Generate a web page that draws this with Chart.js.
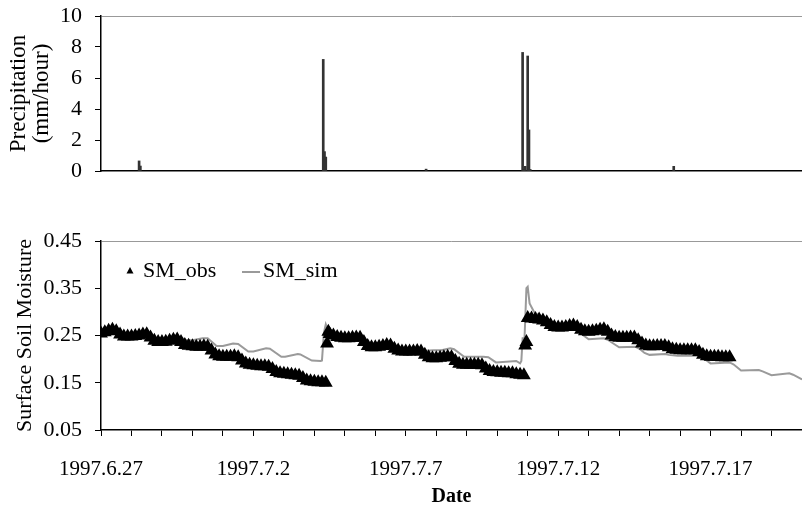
<!DOCTYPE html>
<html>
<head>
<meta charset="utf-8">
<script src="https://cdn.jsdelivr.net/npm/chart.js@4.4.0/dist/chart.umd.min.js"></script>
<style>
  html, body { margin: 0; padding: 0; background: #fff; }
  #wrap { position: relative; width: 802px; height: 510px; }
  canvas { position: absolute; left: 0; }
  #rainChart { top: 0; }
  #smChart { top: 190px; }
</style>
</head>
<body>
<div id="wrap">
  <canvas id="rainChart" width="802" height="190"></canvas>
  <canvas id="smChart" width="802" height="320"></canvas>
</div>
<script>
// x axis: days since 1997.6.27 0:00
const dayMax = 23;
const tickDays = [0, 5, 10, 15, 20];
const tickLabels = ['1997.6.27', '1997.7.2', '1997.7.7', '1997.7.12', '1997.7.17'];

// hourly precipitation (only the non-zero hours)
const rainHours = [30, 31, 175, 176, 177, 256, 332, 333, 334, 336, 337, 338, 451];
const rainValues = [0.65, 0.32, 7.2, 1.25, 0.9, 0.12, 7.65, 0.1, 0.3, 7.42, 2.65, 0.1, 0.3];

// SM_obs, one reading every 3 hours from hour 0
const obsStep = 3;
const obsValues = [
  0.254, 0.257, 0.260, 0.262, 0.259, 0.252, 0.248, 0.248,
  0.248, 0.249, 0.250, 0.252, 0.2525, 0.246, 0.239, 0.2365,
  0.2365, 0.237, 0.239, 0.241, 0.2415, 0.236, 0.230, 0.2285,
  0.227, 0.226, 0.226, 0.227, 0.226, 0.218, 0.210, 0.206,
  0.205, 0.205, 0.205, 0.206, 0.204, 0.197, 0.191, 0.188,
  0.187, 0.186, 0.185, 0.185, 0.184, 0.179, 0.173, 0.170,
  0.169, 0.168, 0.167, 0.166, 0.165, 0.160, 0.155, 0.153,
  0.152, 0.151, 0.151, 0.150, 0.253, 0.250, 0.247, 0.245,
  0.244, 0.244, 0.245, 0.246, 0.245, 0.236, 0.228, 0.225,
  0.225, 0.226, 0.228, 0.230, 0.229, 0.222, 0.218, 0.216,
  0.216, 0.216, 0.216, 0.217, 0.216, 0.209, 0.204, 0.202,
  0.202, 0.203, 0.204, 0.205, 0.204, 0.196, 0.190, 0.188,
  0.188, 0.188, 0.188, 0.188, 0.187, 0.180, 0.175, 0.173,
  0.172, 0.171, 0.171, 0.170, 0.170, 0.168, 0.167, 0.166,
  0.287, 0.286, 0.285, 0.284, 0.282, 0.278, 0.272, 0.268,
  0.267, 0.267, 0.268, 0.270, 0.271, 0.268, 0.262, 0.259,
  0.258, 0.259, 0.260, 0.262, 0.263, 0.258, 0.250, 0.247,
  0.245, 0.245, 0.245, 0.246, 0.246, 0.240, 0.233, 0.229,
  0.227, 0.227, 0.228, 0.228, 0.228, 0.225, 0.221, 0.220,
  0.219, 0.219, 0.219, 0.219, 0.219, 0.215, 0.209, 0.206,
  0.205, 0.205, 0.205, 0.204, 0.204, 0.204
];
// extra obs readings during the two wetting jumps
const obsExtraHours = [178, 179, 334, 335];
const obsExtraValues = [0.233, 0.258, 0.229, 0.236];

// SM_sim
const simHours = [0, 3, 6, 9, 12, 15, 18, 24, 30, 36, 39, 42, 48, 54, 59, 62, 67, 72, 80, 84,
  91, 96, 104, 108, 116, 120, 130, 133, 142, 145, 155, 157, 166, 173, 174, 175.5, 177, 179, 181, 184,
  192, 201, 204, 210, 216, 225, 228, 234, 240, 249, 252, 262, 268, 275, 278, 286, 301, 305, 311, 327,
  330, 331, 332, 333.5, 335, 336, 337.5, 341, 346, 350, 354, 357, 360, 372, 375, 380, 384, 396, 399, 404,
  408, 421, 424, 428, 432, 444, 447, 454, 471, 474, 480, 495, 498, 504, 518, 521, 528, 542, 545, 552];
const simValues = [0.254, 0.257, 0.260, 0.263, 0.260, 0.252, 0.248, 0.248, 0.250, 0.253, 0.247, 0.240, 0.237, 0.243, 0.250, 0.247, 0.240, 0.240, 0.244, 0.244,
  0.228, 0.228, 0.233, 0.232, 0.216, 0.216, 0.223, 0.222, 0.205, 0.205, 0.211, 0.210, 0.197, 0.196, 0.197, 0.255, 0.274, 0.260, 0.252, 0.249,
  0.245, 0.247, 0.246, 0.229, 0.226, 0.231, 0.230, 0.219, 0.217, 0.218, 0.217, 0.219, 0.219, 0.223, 0.221, 0.205, 0.205, 0.204, 0.193, 0.196,
  0.191, 0.196, 0.244, 0.244, 0.350, 0.353, 0.318, 0.300, 0.290, 0.284, 0.280, 0.273, 0.266, 0.265, 0.262, 0.250, 0.242, 0.244, 0.241, 0.232,
  0.225, 0.226, 0.222, 0.213, 0.209, 0.211, 0.209, 0.207, 0.207, 0.203, 0.191, 0.193, 0.189, 0.176, 0.177, 0.174, 0.166, 0.170, 0.167, 0.157];

Chart.defaults.font.family = "'Liberation Serif', 'Times New Roman', serif";
Chart.defaults.color = '#000';
Chart.defaults.animation = false;

const serif = "'Liberation Serif', 'Times New Roman', serif";
const leftWidth = 101;

function dayLabel(v) {
  const i = tickDays.indexOf(v);
  return i >= 0 ? tickLabels[i] : '';
}

// keep the plot box exactly where the reference has it
function fixY(s) {
  s.width = leftWidth;
  s.paddingTop = 0;
  s.paddingBottom = 0;
}
function fixX(h) {
  return s => {
    s.height = h;
    s.paddingLeft = 0;
    s.paddingRight = 0;
  };
}

// top panel: precipitation
new Chart(document.getElementById('rainChart'), {
  type: 'bar',
  data: {
    datasets: [{
      label: 'Precipitation',
      data: rainHours.map((h, i) => ({ x: h / 24, y: rainValues[i] })),
      backgroundColor: '#333333',
      barThickness: 2
    }]
  },
  options: {
    responsive: false,
    layout: { autoPadding: false, padding: { top: 16, right: 0, bottom: 0, left: 0 } },
    plugins: { legend: { display: false }, tooltip: { enabled: false } },
    scales: {
      x: {
        type: 'linear', min: 0, max: dayMax, offset: false,
        grid: { display: false, offset: false },
        ticks: { display: false },
        border: { color: '#000', width: 1.5 },
        afterFit: fixX(19)
      },
      y: {
        min: 0, max: 10,
        ticks: { stepSize: 1, padding: 13, font: { size: 22 }, callback: v => (v % 2 === 0 ? String(v) : '') },
        grid: {
          drawOnChartArea: true, tickLength: 6, tickColor: '#000',
          color: c => (c.tick && c.tick.value === 10 ? '#999999' : 'rgba(0,0,0,0)')
        },
        border: { color: '#000', width: 1.5 },
        title: {
          display: true, text: ['Precipitation', '(mm/hour)'],
          font: { size: 23, lineHeight: 1.0 }, padding: { top: 7, bottom: 0 }
        },
        afterFit: fixY
      }
    }
  }
});

// legend drawn inside the plot area
const smLegend = {
  id: 'smLegend',
  afterDraw(chart) {
    const { ctx, chartArea } = chart;
    const ds = chart.data.datasets;
    const y = chartArea.top + 30;
    const x0 = chartArea.left;
    ctx.save();
    ctx.font = '22px ' + serif;
    ctx.textBaseline = 'middle';
    ctx.fillStyle = '#000';
    ctx.beginPath();
    ctx.moveTo(x0 + 29, y - 4);
    ctx.lineTo(x0 + 32.5, y + 2.5);
    ctx.lineTo(x0 + 25.5, y + 2.5);
    ctx.closePath();
    ctx.fill();
    ctx.fillText(ds[0].label, x0 + 42, y);
    ctx.strokeStyle = ds[1].borderColor;
    ctx.lineWidth = 2;
    ctx.beginPath();
    ctx.moveTo(x0 + 141, y + 1);
    ctx.lineTo(x0 + 159, y + 1);
    ctx.stroke();
    ctx.fillText(ds[1].label, x0 + 162, y);
    ctx.restore();
  }
};

const obsPoints = obsValues.map((v, i) => ({ x: i * obsStep / 24, y: v }))
  .concat(obsExtraHours.map((h, i) => ({ x: h / 24, y: obsExtraValues[i] })));

// bottom panel: surface soil moisture
new Chart(document.getElementById('smChart'), {
  type: 'line',
  data: {
    datasets: [{
      label: 'SM_obs',
      data: obsPoints,
      showLine: false,
      pointStyle: 'triangle',
      pointRadius: 6,
      pointBorderWidth: 2,
      pointBackgroundColor: '#000',
      pointBorderColor: '#000',
      order: 0
    }, {
      label: 'SM_sim',
      data: simHours.map((h, i) => ({ x: h / 24, y: simValues[i] })),
      borderColor: '#9a9a9a',
      borderWidth: 2,
      pointRadius: 0,
      tension: 0,
      order: 1
    }]
  },
  options: {
    responsive: false,
    layout: { autoPadding: false, padding: { top: 51, right: 0, bottom: 0, left: 0 } },
    plugins: { legend: { display: false }, tooltip: { enabled: false } },
    scales: {
      x: {
        type: 'linear', min: 0, max: dayMax,
        ticks: {
          stepSize: 1, autoSkip: false, maxRotation: 0, minRotation: 0,
          padding: 21, font: { size: 21 }, callback: dayLabel
        },
        grid: { drawOnChartArea: false, tickLength: 6, tickColor: '#000' },
        border: { color: '#000', width: 1.5 },
        title: {
          display: true, text: 'Date',
          font: { size: 20, weight: 'bold', lineHeight: 1.0 }, padding: { top: 0, bottom: 3 }
        },
        afterFit: fixX(80)
      },
      y: {
        min: 0.05, max: 0.45,
        ticks: { stepSize: 0.1, padding: 13, font: { size: 22 }, callback: v => v.toFixed(2) },
        grid: {
          drawOnChartArea: true, tickLength: 6, tickColor: '#000',
          color: c => (c.tick && Math.abs(c.tick.value - 0.45) < 1e-6 ? '#999999' : 'rgba(0,0,0,0)')
        },
        border: { color: '#000', width: 1.5 },
        title: {
          display: true, text: 'Surface Soil Moisture',
          font: { size: 22, lineHeight: 1.0 }, padding: { top: 14, bottom: 0 }
        },
        afterFit: fixY
      }
    }
  },
  plugins: [smLegend]
});
</script>
</body>
</html>
